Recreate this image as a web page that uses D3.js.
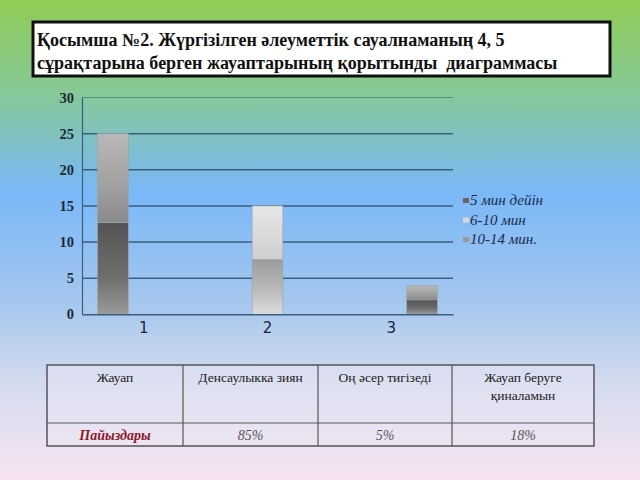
<!DOCTYPE html>
<html><head><meta charset="utf-8">
<script src="https://cdn.jsdelivr.net/npm/d3@7"></script>
<style>body{margin:0;padding:0;overflow:hidden;}svg{display:block;}</style>
</head><body>
<svg id="c" width="640" height="480"></svg>
<script>
// ---- data ----
const titleLines = ["Қосымша №2. Жүргізілген әлеуметтік сауалнаманың 4, 5", "сұрақтарына берген жауаптарының қорытынды  диаграммасы"];
const categories = ["1", "2", "3"];
const seriesNames = ["5 мин дейін", "6-10 мин", "10-14 мин."];
const series5min = [12.7, 0, 2];
const series6to10 = [0, 7.4, 0];
const series10to14 = [12.3, 7.6, 2];
const yTicks = [0, 5, 10, 15, 20, 25, 30];
const tableHeader = ["Жауап", "Денсаулыкка зиян", "Оң әсер тигізеді", "Жауап беруге қиналамын"];
const tableRow = ["Пайыздары", "85%", "5%", "18%"];

(function(){
const svg = d3.select("#c");
const defs = svg.append("defs");

const bg = defs.append("linearGradient").attr("id","bg").attr("x1",0).attr("y1",0).attr("x2",0).attr("y2",1);
[[0,"#8fcc55"],[0.2,"#86c89a"],[0.4,"#7ab8f8"],[0.62,"#a3c6ee"],[0.8,"#d4dbef"],[1,"#f8e4f3"]].forEach(s=>bg.append("stop").attr("offset",s[0]).attr("stop-color",s[1]));
svg.append("rect").attr("width",640).attr("height",480).attr("fill","url(#bg)");

function grad(id, stops){
  const g = defs.append("linearGradient").attr("id",id).attr("x1",0).attr("y1",0).attr("x2",0).attr("y2",1);
  stops.forEach(s=>g.append("stop").attr("offset",s[0]).attr("stop-color",s[1]));
}
grad("gDark", [[0,"#545454"],[0.6,"#6e6e6e"],[1,"#9a9a9a"]]);
grad("gMid", [[0,"#b9b9b9"],[0.6,"#a0a0a0"],[1,"#8a8a8a"]]);
grad("gMid2", [[0,"#9c9c9c"],[0.6,"#bdbdbd"],[1,"#dcdcdc"]]);
grad("gLight", [[0,"#e6e6e6"],[1,"#cfcfcf"]]);

// title box
svg.append("rect").attr("x",33).attr("y",22).attr("width",577).attr("height",54)
  .attr("fill","#fff").attr("stroke","#111").attr("stroke-width",3);
svg.append("g").selectAll("text").data(titleLines).join("text")
  .attr("x",37).attr("y",(d,i)=>46+i*23)
  .style("white-space","pre")
  .attr("font-family","Liberation Serif, Times New Roman, serif").attr("font-weight","bold")
  .attr("font-size",18).attr("fill","#111").text(d=>d);

// chart
const pL = 82, pR = 453, pT = 97.5, pB = 314.3;
const y = d3.scaleLinear().domain([0,30]).range([pB, pT]);
const x = d3.scaleBand().domain(categories).range([pL, pR]);
const xb = d3.scalePoint().domain(categories).range([pL, pR]).padding(0.2);
const barW = 30.7;

const g = svg.append("g");
g.selectAll("line.grid").data(yTicks.filter(t=>t>0)).join("line")
  .attr("x1",pL).attr("x2",pR).attr("y1",d=>y(d)).attr("y2",d=>y(d))
  .attr("stroke",(d)=>d===30?"#5f8f86":"#3a5f7e").attr("stroke-width",(d)=>d===30?1:1.5);

const yAxis = g.append("g").attr("transform",`translate(${pL},0)`)
  .call(d3.axisLeft(y).tickValues(yTicks).tickSize(0).tickPadding(8));
yAxis.select(".domain").attr("stroke","#3a5f7e").attr("stroke-width",1.2);
yAxis.selectAll("text").attr("font-family","Liberation Serif, Times New Roman, serif")
  .attr("font-weight","bold").attr("font-size",14.5).attr("fill","#1b2b33");

const rows = categories.map((c,i)=>({cat:c, s1:series5min[i], s2:series6to10[i], s3:series10to14[i]}));
const stacked = d3.stack().keys(["s1","s3","s2"])(rows);
const fillFor = {s1:"url(#gDark)", s2:"url(#gLight)"};
stacked.forEach(layer=>{
  g.append("g").selectAll("rect").data(layer.filter(d=>d[1]-d[0]>0)).join("rect")
    .attr("x",d=>xb(d.data.cat)-barW/2)
    .attr("width",barW)
    .attr("y",d=>y(d[1]))
    .attr("height",d=>y(d[0])-y(d[1]))
    .attr("fill",d=>{
      if(layer.key==="s3") return d[0]===0 ? "url(#gMid2)" : "url(#gMid)";
      return fillFor[layer.key];
    })
    .attr("stroke","#9aa3ad").attr("stroke-width",0.6);
});

const xAxis = g.append("g").attr("transform",`translate(0,${pB})`)
  .call(d3.axisBottom(x).tickSize(0).tickPadding(8));
xAxis.select(".domain").attr("stroke","#3a5f7e").attr("stroke-width",1.5);
xAxis.selectAll("text").attr("font-family","DejaVu Sans, sans-serif").attr("font-size",15).attr("fill","#1a2540");

const legColors = ["#666","#d8d8d8","#999"];
const leg = svg.append("g").selectAll("g").data(seriesNames).join("g")
  .attr("transform",(d,i)=>`translate(463,${205+i*19.5})`);
leg.append("rect").attr("x",0).attr("y",-7).attr("width",6).attr("height",5).attr("fill",(d,i)=>legColors[i]);
leg.append("text").attr("x",7).attr("y",0).attr("font-family","Liberation Serif, Times New Roman, serif")
  .attr("font-style","italic").attr("font-size",15).attr("fill","#1b2b4a").text(d=>d);

const colX = [47, 183, 318, 452, 594];
const tTop = 365, tMid = 423, tBot = 446;
const tbl = svg.append("g");
tbl.append("rect").attr("x",colX[0]).attr("y",tTop).attr("width",colX[4]-colX[0]).attr("height",tBot-tTop)
  .attr("fill","rgba(240,236,246,0.35)").attr("stroke","#555").attr("stroke-width",1.5);
tbl.append("line").attr("x1",colX[0]).attr("x2",colX[4]).attr("y1",tMid).attr("y2",tMid).attr("stroke","#555").attr("stroke-width",1.2);
tbl.selectAll("line.v").data(colX.slice(1,4)).join("line")
  .attr("x1",d=>d).attr("x2",d=>d).attr("y1",tTop).attr("y2",tBot).attr("stroke","#555").attr("stroke-width",1.2);
const hdrLines = tableHeader.map(h=>h==="Жауап беруге қиналамын"?["Жауап беруге","қиналамын"]:[h]);
hdrLines.forEach((ls,i)=>{
  const cx=(colX[i]+colX[i+1])/2;
  ls.forEach((l,j)=>tbl.append("text").attr("x",cx).attr("y",382+j*18).attr("text-anchor","middle")
    .attr("font-family","Liberation Serif, Times New Roman, serif").attr("font-size",13.5).attr("fill","#222").text(l));
});
tableRow.forEach((v,i)=>{
  const cx=(colX[i]+colX[i+1])/2;
  tbl.append("text").attr("x",cx).attr("y",440).attr("text-anchor","middle")
    .attr("font-family","Liberation Serif, Times New Roman, serif").attr("font-style","italic")
    .attr("font-weight",i===0?"bold":"normal").attr("font-size",14)
    .attr("fill",i===0?"#8b1a2a":"#555").text(v);
});
})();
</script>
</body></html>
